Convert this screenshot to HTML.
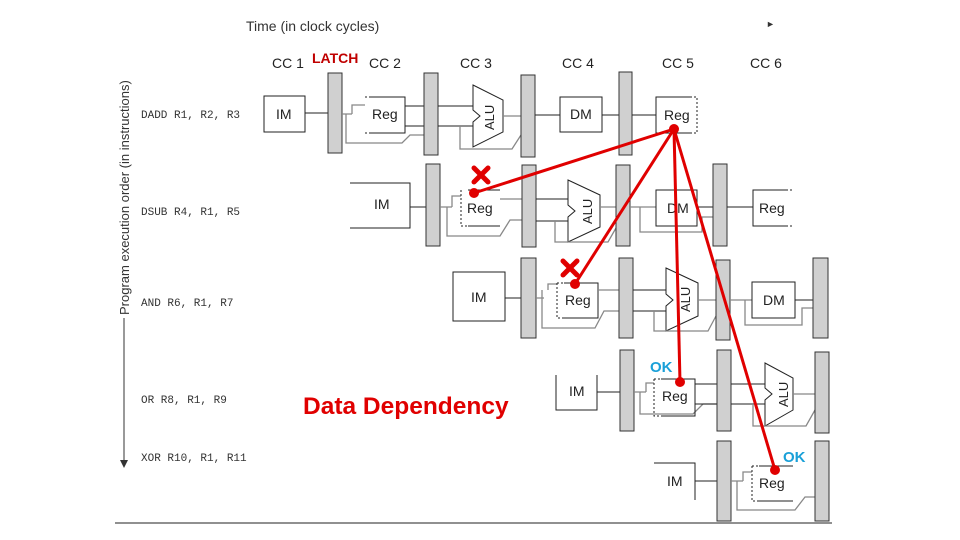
<!DOCTYPE html>
<html><head><meta charset="utf-8"><style>
html,body{margin:0;padding:0;background:#fff;}
svg{display:block;}
text{font-family:"Liberation Sans",sans-serif;}
.m{font-family:"Liberation Mono",monospace;font-size:11px;fill:#333;}
.l{fill:#d0d0d0;stroke:#333;stroke-width:1;}
.b{fill:#fff;stroke:#222;stroke-width:1;}
.w{fill:none;stroke:#222;stroke-width:1;}
.g{fill:none;stroke:#888;stroke-width:1.3;}
.d{fill:none;stroke:#222;stroke-width:1;stroke-dasharray:2,2;}
.t{font-size:14px;fill:#222;}
</style></head><body>
<svg width="960" height="540" viewBox="0 0 960 540" xmlns="http://www.w3.org/2000/svg">
<text x="246" y="31" font-size="14" fill="#333">Time (in clock cycles)</text>
<text x="766" y="27" font-size="9" fill="#333">►</text>
<g font-size="14" fill="#222">
<text x="272" y="68">CC 1</text><text x="369" y="68">CC 2</text><text x="460" y="68">CC 3</text>
<text x="562" y="68">CC 4</text><text x="662" y="68">CC 5</text><text x="750" y="68">CC 6</text></g>
<text x="312" y="63" font-size="14" font-weight="bold" fill="#c00000">LATCH</text>
<text transform="translate(129,315) rotate(-90)" font-size="13" fill="#333">Program execution order (in instructions)</text>
<line x1="124" y1="318" x2="124" y2="462" stroke="#333"/>
<polygon points="120,460 128,460 124,468" fill="#333"/>
<text class="m" x="141" y="118">DADD R1, R2, R3</text>
<text class="m" x="141" y="215">DSUB R4, R1, R5</text>
<text class="m" x="141" y="306">AND R6, R1, R7</text>
<text class="m" x="141" y="403">OR R8, R1, R9</text>
<text class="m" x="141" y="461">XOR R10, R1, R11</text>
<line x1="115" y1="523" x2="832" y2="523" stroke="#222"/>

<!-- Row 1 -->
<rect class="b" x="264" y="96" width="41" height="36"/><text class="t" x="276" y="119">IM</text>
<line class="w" x1="305" y1="113" x2="328" y2="113"/>
<rect class="l" x="328" y="73" width="14" height="80"/>
<path class="g" d="M342,114 H352 M346,114 V143 H402 L410,135 H424 M352,114 V105 H365"/>
<path class="w" d="M370,97 H405 V133 H370 M405,106 H424 M405,126 H424"/><path class="d" d="M365,97 H370 M365,133 H370"/>
<text class="t" x="372" y="119">Reg</text>
<rect class="l" x="424" y="73" width="14" height="82"/>
<path class="w" d="M438,106 H473 M438,126 H473"/>
<polygon class="b" points="473,85 503,100 503,132 473,147 473,122 480,116 473,110"/>
<text transform="translate(494,130) rotate(-90)" font-size="13" fill="#222">ALU</text>
<path class="g" d="M503,116 H521 M460,126 V149 H512 L521,135"/>
<rect class="l" x="521" y="75" width="14" height="82"/>
<line class="w" x1="535" y1="115" x2="560" y2="115"/>
<rect class="b" x="560" y="97" width="42" height="35"/><text class="t" x="570" y="119">DM</text>
<line class="w" x1="602" y1="115" x2="619" y2="115"/>
<rect class="l" x="619" y="72" width="13" height="83"/>
<line class="w" x1="632" y1="115" x2="656" y2="115"/>
<path class="w" d="M690,97 H656 V133 H690"/><path class="d" d="M690,97 H697 V133 H690"/>
<text class="t" x="664" y="120">Reg</text>

<!-- Row 2 -->
<path class="w" d="M350,183 H410 V228 H350"/><text class="t" x="374" y="209">IM</text>
<line class="w" x1="410" y1="207" x2="426" y2="207"/>
<rect class="l" x="426" y="164" width="14" height="82"/>
<path class="g" d="M440,207 H452 M447,207 V236 H500 L510,220 H522 M452,207 V196 H461"/>
<path class="w" d="M468,190 H500 M468,226 H500"/><path class="d" d="M461,190 V226 H468"/>
<path class="g" d="M500,199 H522"/>
<text class="t" x="467" y="213">Reg</text>
<rect class="l" x="522" y="165" width="14" height="82"/>
<path class="w" d="M536,199 H568 M536,221 H568"/>
<polygon class="b" points="568,180 600,195 600,227 568,242 568,217 575,211 568,205"/>
<text transform="translate(592,224) rotate(-90)" font-size="13" fill="#222">ALU</text>
<path class="g" d="M600,207 H616 M555,221 V242 H608 L616,228"/>
<rect class="l" x="616" y="165" width="14" height="81"/>
<path class="g" d="M630,207 H656 M640,207 V232 H702 V217 H713"/>
<rect class="b" x="656" y="190" width="41" height="36"/><text class="t" x="667" y="213">DM</text>
<line class="w" x1="697" y1="207" x2="713" y2="207"/>
<rect class="l" x="713" y="164" width="14" height="82"/>
<line class="w" x1="727" y1="207" x2="753" y2="207"/>
<path class="w" d="M786,190 H753 V226 H786"/><path class="d" d="M786,190 H793 M786,226 H793"/>
<text class="t" x="759" y="213">Reg</text>

<!-- Row 3 -->
<rect class="b" x="453" y="272" width="52" height="49"/><text class="t" x="471" y="302">IM</text>
<line class="w" x1="505" y1="298" x2="521" y2="298"/>
<rect class="l" x="521" y="258" width="15" height="80"/>
<path class="g" d="M536,298 H544 M542,290 V328 H595 L604,311 H619 M548,290 V284 H557"/>
<path class="w" d="M564,283 H598 V318 H564"/><path class="d" d="M557,283 H564 M557,283 V318 H564"/>
<path class="g" d="M598,290 H619"/>
<text class="t" x="565" y="305">Reg</text>
<rect class="l" x="619" y="258" width="14" height="80"/>
<path class="w" d="M633,290 H666 M633,311 H666"/>
<polygon class="b" points="666,268 698,283 698,316 666,331 666,306 673,300 666,294"/>
<text transform="translate(690,312) rotate(-90)" font-size="13" fill="#222">ALU</text>
<path class="g" d="M698,300 H716 M654,311 V331 H708 L716,316"/>
<rect class="l" x="716" y="260" width="14" height="80"/>
<path class="g" d="M730,300 H752 M745,300 V325 H802 V308 H813"/>
<rect class="b" x="752" y="282" width="43" height="36"/><text class="t" x="763" y="305">DM</text>
<line class="w" x1="795" y1="300" x2="813" y2="300"/>
<rect class="l" x="813" y="258" width="15" height="80"/>

<!-- Row 4 -->
<path class="w" d="M556,375 V410 H597 V375"/><text class="t" x="569" y="396">IM</text>
<line class="w" x1="597" y1="392" x2="620" y2="392"/>
<rect class="l" x="620" y="350" width="14" height="81"/>
<path class="g" d="M634,392 H646 M640,392 V414 H693 L703,404 H717 M646,392 V383 H654"/>
<path class="w" d="M661,379 H695 V416 H661 M695,384 H717 M695,404 H717"/><path class="d" d="M654,379 H661 M654,379 V416 H661"/>
<text class="t" x="662" y="401">Reg</text>
<rect class="l" x="717" y="350" width="14" height="81"/>
<path class="w" d="M731,384 H765 M731,404 H765"/>
<polygon class="b" points="765,363 793,378 793,410 765,426 765,400 772,394 765,388"/>
<text transform="translate(788,407) rotate(-90)" font-size="13" fill="#222">ALU</text>
<path class="g" d="M793,394 H815 M753,404 V426 H806 L815,410"/>
<rect class="l" x="815" y="352" width="14" height="81"/>

<!-- Row 5 -->
<path class="w" d="M654,463 H695 V500"/><text class="t" x="667" y="486">IM</text>
<line class="w" x1="695" y1="481" x2="717" y2="481"/>
<rect class="l" x="717" y="441" width="14" height="80"/>
<path class="g" d="M731,481 H743 M737,481 V510 H795 L805,497 H815 M743,481 V472 H752"/>
<path class="w" d="M759,466 H793 M759,501 H793"/><path class="d" d="M752,466 H759 M752,466 V501 H759"/>
<text class="t" x="759" y="488">Reg</text>
<rect class="l" x="815" y="441" width="14" height="80"/>

<!-- Red dependencies -->
<g stroke="#e00000" stroke-width="3" fill="none">
<line x1="674" y1="129" x2="474" y2="193"/>
<line x1="674" y1="129" x2="575" y2="284"/>
<line x1="674" y1="129" x2="680" y2="382"/>
<line x1="674" y1="129" x2="775" y2="470"/>
</g>
<g fill="#e00000">
<circle cx="674" cy="129" r="5"/><circle cx="474" cy="193" r="5"/><circle cx="575" cy="284" r="5"/>
<circle cx="680" cy="382" r="5"/><circle cx="775" cy="470" r="5"/>
</g>
<g stroke="#e00000" stroke-width="5" stroke-linecap="round">
<line x1="474" y1="168" x2="488" y2="182"/><line x1="488" y1="168" x2="474" y2="182"/>
<line x1="563" y1="261" x2="577" y2="275"/><line x1="577" y1="261" x2="563" y2="275"/>
</g>
<text x="650" y="372" font-size="15" font-weight="bold" fill="#1aa0d8">OK</text>
<text x="783" y="462" font-size="15" font-weight="bold" fill="#1aa0d8">OK</text>
<text x="303" y="414" font-size="24.5" font-weight="bold" fill="#e00000">Data Dependency</text>
</svg>
</body></html>
